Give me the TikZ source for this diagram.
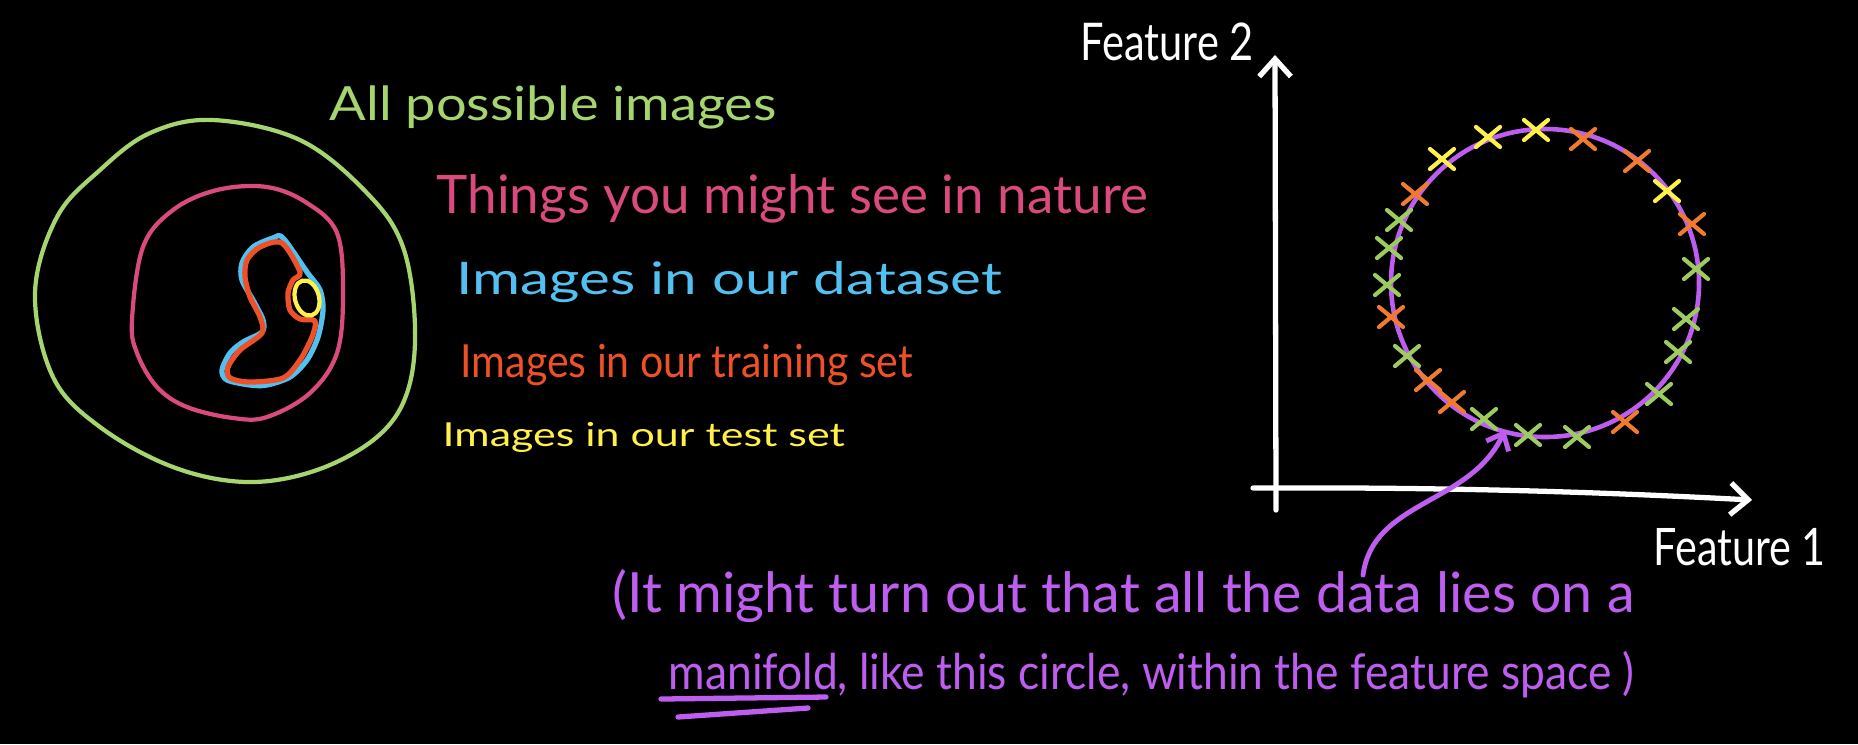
\documentclass[tikz,border=0pt]{standalone}
\usepackage{fontspec}
\setmainfont{Lato}
\newfontfamily\hand{Lato}
\usetikzlibrary{arrows.meta}
\definecolor{cgreen}{HTML}{A6D46E}
\definecolor{cpink}{HTML}{D94A7E}
\definecolor{cblue}{HTML}{52C1F2}
\definecolor{cred}{HTML}{EE5128}
\definecolor{cyellow}{HTML}{FFF04A}
\definecolor{cpurple}{HTML}{BD5EF0}
\definecolor{corange}{HTML}{F07A30}
\definecolor{cxgreen}{HTML}{9DCB60}
\newcommand{\fitw}[2]{\resizebox{#1}{!}{#2}}
\newcommand{\stretched}[1]{\hand\addfontfeatures{FakeStretch=#1}}
\begin{document}
\begin{tikzpicture}[x=0.01cm,y=-0.01cm, line cap=round, line join=round,
  lbl/.style={anchor=base west, inner sep=0pt, font=\hand},
  ring/.style={line width=1.2pt},
  blob/.style={line width=1.5pt},
  xmark/.style={line width=1.2pt},
  axis/.style={draw=white, line width=1.5pt, -{Straight Barb[length=5pt,width=9pt]}},
  pointer/.style={draw=cpurple, line width=1.4pt, -{Straight Barb[length=4pt,width=7pt]}}
]
\fill[black] (0,0) rectangle (1858,744);
\useasboundingbox (0,0) rectangle (1858,744);

% ---- nested sets ----
\draw[ring, cgreen] plot[smooth cycle, tension=0.6] coordinates {(213,120) (300,140) (367,193) (403,247) (415,327) (407,393) (377,437) (317,470) (247,482) (173,467) (100,427) (53,377) (35,293) (57,217) (100,170) (150,133)};
\draw[ring, cpink] plot[smooth cycle, tension=0.6] coordinates {(132,320) (143,247) (173,210) (217,190) (267,187) (307,203) (337,233) (343,293) (337,353) (310,393) (267,417) (233,418) (187,407) (157,387) (137,353)};
\draw[blob, cblue] plot[smooth cycle, tension=0.5] coordinates {(273,238) (283,238) (307,272) (320,290) (323,310) (318,337) (307,360) (290,377) (267,385) (250,385) (227,380) (222,370) (230,353) (243,342) (262,332) (263,320) (253,300) (242,280) (242,263) (253,247)};
\draw[blob, cred] plot[smooth cycle, tension=0.5] coordinates {(282,243) (300,272) (293,280) (288,293) (290,310) (300,319) (315,321) (312,337) (300,360) (283,378) (250,382) (230,378) (228,367) (240,350) (262,333) (260,317) (250,297) (245,277) (247,260) (260,247)};
\draw[ring, cyellow, rotate around={15:(307,298)}] (307,298) ellipse [x radius=12, y radius=18];

% ---- labels ----
\node[lbl, text=cgreen, font=\stretched{1.15}] (all) at (329,120) {\fitw{4.47cm}{All possible images}};
\node[lbl, text=cpink] (nature) at (436,213) {\fitw{7.11cm}{Things you might see in nature}};
\node[lbl, text=cblue, font=\stretched{1.3}] (dataset) at (456,294) {\fitw{5.45cm}{Images in our dataset}};
\node[lbl, text=cred, font=\stretched{0.9}] (train) at (460,377) {\fitw{4.52cm}{Images in our training set}};
\node[lbl, text=cyellow, font=\stretched{1.3}] (test) at (442,446) {\fitw{4.02cm}{Images in our test set}};

% ---- axes ----
\coordinate (yb) at (1276,510);
\coordinate (yt) at (1275,55);
\coordinate (xl) at (1253,488);
\coordinate (xr) at (1752,500);
\draw[axis] (yb) -- (yt);
\draw[axis] (xl) .. controls (1450,487) and (1600,492) .. (xr);
\node[lbl, text=white, font=\stretched{0.8}] (f2) at (1080,60) {\fitw{1.73cm}{Feature 2}};
\node[lbl, text=white, font=\stretched{0.8}] (f1) at (1653,565) {\fitw{1.72cm}{Feature 1}};

% ---- manifold ----
\draw[cpurple, line width=1.3pt] (1545,283) circle [radius=154];
\foreach \x/\y in {1442/159, 1488/137, 1536/130, 1667/191}
  \draw[xmark, cyellow, shift={(\x,\y)}] (-12,-10) -- (12,10) (-12,10) -- (12,-10);
\foreach \x/\y in {1583/139, 1637/161, 1415/194, 1692/224, 1391/317, 1428/380, 1452/402, 1625/422}
  \draw[xmark, corange, shift={(\x,\y)}] (-12,-10) -- (12,10) (-12,10) -- (12,-10);
\foreach \x/\y in {1399/220, 1389/248, 1387/285, 1407/356, 1484/419, 1528/435, 1577/437, 1659/394, 1678/352, 1686/319, 1696/269}
  \draw[xmark, cxgreen, shift={(\x,\y)}] (-12,-10) -- (12,10) (-12,10) -- (12,-10);

% ---- annotation ----
\node[lbl, text=cpurple] (note1) at (612,612) {\fitw{10.21cm}{(It might turn out that all the data lies on a}};
\node[lbl, text=cpurple, font=\stretched{0.9}] (note2) at (668,689) {\fitw{9.65cm}{manifold, like this circle, within the feature space )}};
\draw[cpurple, line width=1.5pt] (661,699) -- (826,697);
\draw[cpurple, line width=1.5pt] (678,717) -- (808,708);
\coordinate (tail) at (1363,575);
\coordinate (tip) at (1505,430);
\draw[pointer] (tail) .. controls (1373,500) and (1470,505) .. (tip);
\end{tikzpicture}
\end{document}
